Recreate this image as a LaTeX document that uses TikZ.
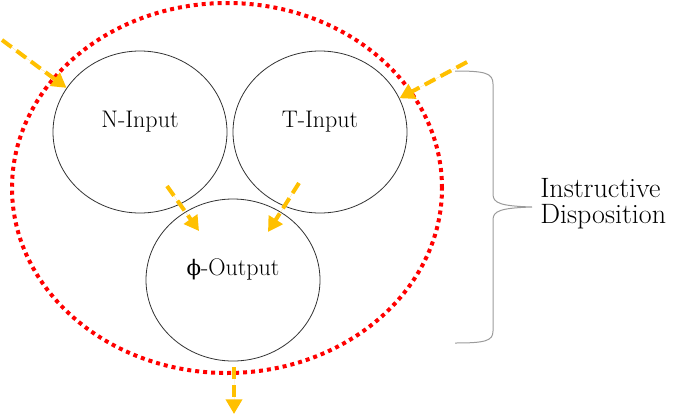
\documentclass[tikz,border=0pt]{standalone}
\usepackage{fontspec}
\newfontfamily\phifont{DejaVu Serif}
\usepackage{tikz}
\usetikzlibrary{calc}
\usetikzlibrary{arrows.meta}
\usetikzlibrary{shapes.geometric}
\definecolor{dispred}{RGB}{255,0,0}
\definecolor{flowamber}{RGB}{255,192,0}
\definecolor{bracegray}{RGB}{155,155,155}
\newcommand{\textlift}{3.75pt}
\tikzstyle{unit}=[
  draw=black!80,
  ellipse,
  inner sep=0pt,
  minimum width=130.5pt,
  minimum height=121.5pt,
  line width=0.6pt
]
\tikzstyle{outer}=[
  draw=dispred,
  ellipse,
  inner sep=0pt,
  minimum width=322.5pt,
  minimum height=277.5pt,
  line width=3pt,
  dash pattern=on 3pt off 3pt
]
\tikzstyle{flow}=[
  draw=flowamber,
  fill=flowamber,
  line width=3pt,
  dash pattern=on 9pt off 4.5pt,
  -{Triangle[length=11pt,width=12pt]}
]
\tikzstyle{caption}=[
  anchor=base,
  inner sep=0pt,
  font=\fontsize{18}{21}\selectfont
]

\begin{document}
\begin{tikzpicture}[x=0.75pt, y=-0.75pt]
  \useasboundingbox (0,0) rectangle (685,415);

  \node[outer] (disp) at (227,188) {};

  \node[unit] (nin)  at (140,132) {};
  \node[unit] (tin)  at (320,132) {};
  \node[unit] (out)  at (233,280) {};

  \node[caption] (nintext) at ([yshift=\textlift]nin.center) {N-Input};
  \node[caption] (tintext) at ([yshift=\textlift]tin.center) {T-Input};
  \node[caption] (outtext) at ([yshift=\textlift]out.center) {{\phifont\fontsize{16}{19}\selectfont ϕ}-Output};

  % free ends of the flows
  \coordinate (nsrc) at (2,40);
  \coordinate (tsrc) at (467,62);
  \coordinate (nmid) at (167,186);
  \coordinate (tmid) at (299,183);
  \coordinate (ntip) at (199,231);
  \coordinate (ttip) at (268,232);
  \coordinate (osrc) at (234,367);
  \coordinate (odst) at (234,414);

  \draw[flow] (nsrc) -- (nin.149);
  \draw[flow] (tsrc) -- (tin.23);
  \draw[flow] (nmid) -- (ntip);
  \draw[flow] (tmid) -- (ttip);
  \draw[flow] (osrc) -- (odst);

  % brace
  \draw[bracegray, line width=0.75pt]
    (455,71) .. controls (485,71) and (493,73) .. (493,84) -- (493,194)
    .. controls (493,203) and (500,206) .. (532,207)
    .. controls (500,208) and (493,211) .. (493,220) -- (493,331)
    .. controls (493,341) and (485,343) .. (455,343);

  \node[anchor=west, align=left, inner sep=0pt,
        font=\fontsize{21}{19.5}\selectfont] (disptext) at (540,204)
        {Instructive\\Disposition};
\end{tikzpicture}
\end{document}
